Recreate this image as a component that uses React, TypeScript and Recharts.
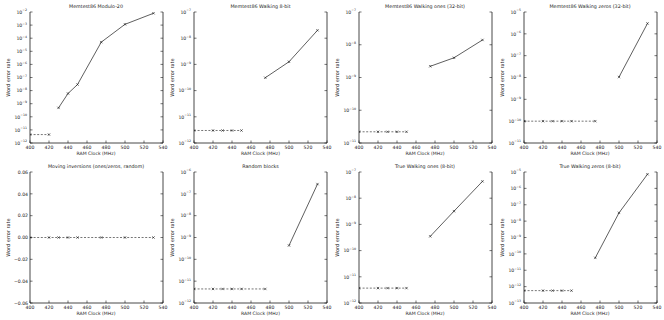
import React from 'react';
import { LineChart, Line, XAxis, YAxis } from 'recharts';

// ---------- data ----------
const xTicks = [400, 420, 440, 460, 480, 500, 520, 540];

const titles = [
  'Memtest86 Modulo-20',
  'Memtest86 Walking 8-bit',
  'Memtest86 Walking ones (32-bit)',
  'Memtest86 Walking zeros (32-bit)',
  'Moving inversions (ones/zeros, random)',
  'Random blocks',
  'True Walking ones (8-bit)',
  'True Walking zeros (8-bit)',
];

const modulo20DashedX = [400, 420];
const modulo20DashedY = [4.4e-12, 4.4e-12];
const modulo20SolidX = [430, 440, 450, 475, 500, 530];
const modulo20SolidY = [4.8e-10, 6e-9, 2.9e-8, 5e-5, 1.15e-3, 8e-3];

const walking8DashedX = [400, 420, 430, 440, 450];
const walking8DashedY = [3e-12, 3e-12, 3e-12, 3e-12, 3e-12];
const walking8SolidX = [475, 500, 530];
const walking8SolidY = [3.1e-10, 1.26e-9, 2e-8];

const ones32DashedX = [400, 420, 430, 440, 450];
const ones32DashedY = [2.2e-11, 2.2e-11, 2.2e-11, 2.2e-11, 2.2e-11];
const ones32SolidX = [475, 500, 530];
const ones32SolidY = [2.2e-9, 4e-9, 1.4e-8];

const zeros32DashedX = [400, 420, 430, 440, 450, 475];
const zeros32DashedY = [1e-10, 1e-10, 1e-10, 1e-10, 1e-10, 1e-10];
const zeros32SolidX = [500, 530];
const zeros32SolidY = [1.05e-8, 3e-6];

const movInvDashedX = [400, 420, 430, 440, 450, 475, 500, 530];
const movInvDashedY = [0, 0, 0, 0, 0, 0, 0, 0];
const movInvSolidX: number[] = [];
const movInvSolidY: number[] = [];

const randomDashedX = [400, 420, 430, 440, 450, 475];
const randomDashedY = [4.4e-12, 4.4e-12, 4.4e-12, 4.4e-12, 4.4e-12, 4.4e-12];
const randomSolidX = [500, 530];
const randomSolidY = [4.3e-10, 2.8e-7];

const trueOnesDashedX = [400, 420, 430, 440, 450];
const trueOnesDashedY = [3.7e-12, 3.7e-12, 3.7e-12, 3.7e-12, 3.7e-12];
const trueOnesSolidX = [475, 500, 530];
const trueOnesSolidY = [3.5e-10, 3.2e-9, 4.4e-8];

const trueZerosDashedX = [400, 420, 430, 440, 450];
const trueZerosDashedY = [5.7e-13, 5.7e-13, 5.7e-13, 5.7e-13, 5.7e-13];
const trueZerosSolidX = [475, 500, 530];
const trueZerosSolidY = [5.7e-11, 3.2e-8, 7.3e-6];

// y-axis decade ranges (exponents) for log panels
const yExpRanges: ([number, number] | null)[] = [
  [-12, -2], [-12, -7], [-11, -7], [-11, -5],
  null, [-12, -6], [-12, -7], [-13, -5],
];
const linearYTicks = [-0.06, -0.04, -0.02, 0, 0.02, 0.04, 0.06];

// ---------- layout / style ----------
const FONT = '"DejaVu Sans", sans-serif';
const INK = '#1a1a1a';
const TXT = '#222';
const W = 133;
const H = 131;
const LEFT_PAD = 30;
const TOP_PAD = 6;
const RIGHT_PAD = 8;
const BOTTOM_PAD = 12;
const axLefts = [29.5, 194, 358.5, 523.5];
const axTops = [12, 172];

const zip = (xs: number[], ys: number[]) => xs.map((x, i) => ({ x, y: ys[i] }));

const series = [
  [zip(modulo20DashedX, modulo20DashedY), zip(modulo20SolidX, modulo20SolidY)],
  [zip(walking8DashedX, walking8DashedY), zip(walking8SolidX, walking8SolidY)],
  [zip(ones32DashedX, ones32DashedY), zip(ones32SolidX, ones32SolidY)],
  [zip(zeros32DashedX, zeros32DashedY), zip(zeros32SolidX, zeros32SolidY)],
  [zip(movInvDashedX, movInvDashedY), zip(movInvSolidX, movInvSolidY)],
  [zip(randomDashedX, randomDashedY), zip(randomSolidX, randomSolidY)],
  [zip(trueOnesDashedX, trueOnesDashedY), zip(trueOnesSolidX, trueOnesSolidY)],
  [zip(trueZerosDashedX, trueZerosDashedY), zip(trueZerosSolidX, trueZerosSolidY)],
];

const TL = 2.5;

const BottomTick = (p: any) => {
  const { x, y, payload } = p;
  return (
    <g>
      <line x1={x} x2={x} y1={y} y2={y - TL} stroke={INK} strokeWidth={0.6} />
      <text x={x} y={y + 6} textAnchor="middle" fontSize={4.6} fontFamily={FONT} fill={TXT}>
        {payload.value}
      </text>
    </g>
  );
};

const TopTick = (p: any) => {
  const { x, y } = p;
  return <line x1={x} x2={x} y1={y} y2={y + TL} stroke={INK} strokeWidth={0.6} />;
};

const RightTick = (p: any) => {
  const { x, y } = p;
  return <line x1={x} x2={x - TL} y1={y} y2={y} stroke={INK} strokeWidth={0.6} />;
};

const LogLeftTick = (p: any) => {
  const { x, y, payload } = p;
  const exp = Math.round(Math.log10(payload.value));
  return (
    <g>
      <line x1={x} x2={x + TL} y1={y} y2={y} stroke={INK} strokeWidth={0.6} />
      <text x={x - 3} y={y + 1.7} textAnchor="end" fontSize={4.6} fontFamily={FONT} fill={TXT}>
        10
        <tspan dy={-2.3} fontSize={3.2}>
          {(exp < 0 ? '\u2212' : '') + Math.abs(exp)}
        </tspan>
      </text>
    </g>
  );
};

const LinLeftTick = (p: any) => {
  const { x, y, payload } = p;
  const v: number = payload.value;
  const s = (v < 0 ? '\u2212' : '') + Math.abs(v).toFixed(2);
  return (
    <g>
      <line x1={x} x2={x + TL} y1={y} y2={y} stroke={INK} strokeWidth={0.6} />
      <text x={x - 2} y={y + 1.7} textAnchor="end" fontSize={4.6} fontFamily={FONT} fill={TXT}>
        {s}
      </text>
    </g>
  );
};

const XMark = (p: any) => {
  const { cx, cy } = p;
  if (cx == null || cy == null || isNaN(cx) || isNaN(cy)) return <g />;
  const r = 1.2;
  return (
    <path
      d={`M${cx - r},${cy - r}L${cx + r},${cy + r}M${cx - r},${cy + r}L${cx + r},${cy - r}`}
      stroke={INK}
      strokeWidth={0.6}
      fill="none"
    />
  );
};

const Panel = ({ idx }: { idx: number }) => {
  const col = idx % 4;
  const row = Math.floor(idx / 4);
  const range = yExpRanges[idx];
  const isLog = range !== null;
  const yTicks = isLog
    ? Array.from({ length: range![1] - range![0] + 1 }, (_, i) => Math.pow(10, range![0] + i))
    : linearYTicks;
  const yDomain: [number, number] = isLog
    ? [Math.pow(10, range![0]), Math.pow(10, range![1])]
    : [-0.06, 0.06];
  const [dashed, solid] = series[idx];
  const axisLine = { stroke: INK, strokeWidth: 0.8 };
  return (
    <div
      style={{
        position: 'absolute',
        left: axLefts[col] - LEFT_PAD,
        top: axTops[row] - TOP_PAD,
      }}
    >
      <LineChart
        width={LEFT_PAD + W + RIGHT_PAD}
        height={TOP_PAD + H + BOTTOM_PAD}
        margin={{ top: TOP_PAD, right: RIGHT_PAD - 1, bottom: 0, left: 0 }}
      >
        <XAxis
          xAxisId="b"
          type="number"
          dataKey="x"
          domain={[400, 540]}
          ticks={xTicks}
          interval={0}
          allowDataOverflow
          height={BOTTOM_PAD}
          axisLine={axisLine}
          tickLine={false}
          tickSize={0}
          tickMargin={0}
          tick={<BottomTick />}
        />
        <XAxis
          xAxisId="t"
          orientation="top"
          type="number"
          dataKey="x"
          domain={[400, 540]}
          ticks={xTicks}
          interval={0}
          allowDataOverflow
          height={0}
          axisLine={axisLine}
          tickLine={false}
          tickSize={0}
          tickMargin={0}
          tick={<TopTick />}
        />
        <YAxis
          yAxisId="l"
          type="number"
          dataKey="y"
          scale={isLog ? 'log' : 'linear'}
          domain={yDomain}
          ticks={yTicks}
          interval={0}
          allowDataOverflow
          width={LEFT_PAD}
          axisLine={axisLine}
          tickLine={false}
          tickSize={0}
          tickMargin={0}
          tick={isLog ? <LogLeftTick /> : <LinLeftTick />}
        />
        <YAxis
          yAxisId="r"
          orientation="right"
          type="number"
          dataKey="y"
          scale={isLog ? 'log' : 'linear'}
          domain={yDomain}
          ticks={yTicks}
          interval={0}
          allowDataOverflow
          width={1}
          axisLine={axisLine}
          tickLine={false}
          tickSize={0}
          tickMargin={0}
          tick={<RightTick />}
        />
        <Line
          xAxisId="b"
          yAxisId="l"
          data={dashed}
          dataKey="y"
          type="linear"
          stroke={INK}
          strokeWidth={0.6}
          strokeDasharray="2 1.6"
          dot={<XMark />}
          activeDot={false}
          isAnimationActive={false}
        />
        {solid.length > 0 && (
          <Line
            xAxisId="b"
            yAxisId="l"
            data={solid}
            dataKey="y"
            type="linear"
            stroke={INK}
            strokeWidth={0.7}
            dot={<XMark />}
            activeDot={false}
            isAnimationActive={false}
          />
        )}
      </LineChart>
    </div>
  );
};

export default function App() {
  const idxs = [0, 1, 2, 3, 4, 5, 6, 7];
  return (
    <div
      style={{
        position: 'absolute',
        left: 0,
        top: 0,
        width: 664,
        height: 320,
        background: '#fff',
        overflow: 'hidden',
      }}
    >
      {idxs.map((i) => (
        <Panel key={i} idx={i} />
      ))}
      <svg
        width={664}
        height={320}
        style={{ position: 'absolute', left: 0, top: 0, pointerEvents: 'none' }}
      >
        {idxs.map((i) => {
          const col = i % 4;
          const row = Math.floor(i / 4);
          const l = axLefts[col];
          const t = axTops[row];
          const cx = l + W / 2;
          const cy = t + H / 2;
          return (
            <g key={i} fontFamily={FONT} fill={TXT}>
              <text x={cx} y={t - 4} textAnchor="middle" fontSize={4.8}>
                {titles[i]}
              </text>
              <text x={cx} y={t + H + 11.5} textAnchor="middle" fontSize={4.6}>
                RAM Clock (MHz)
              </text>
              <text
                x={l - 20}
                y={cy}
                textAnchor="middle"
                fontSize={5}
                transform={`rotate(-90, ${l - 20}, ${cy})`}
              >
                Word error rate
              </text>
            </g>
          );
        })}
      </svg>
    </div>
  );
}
